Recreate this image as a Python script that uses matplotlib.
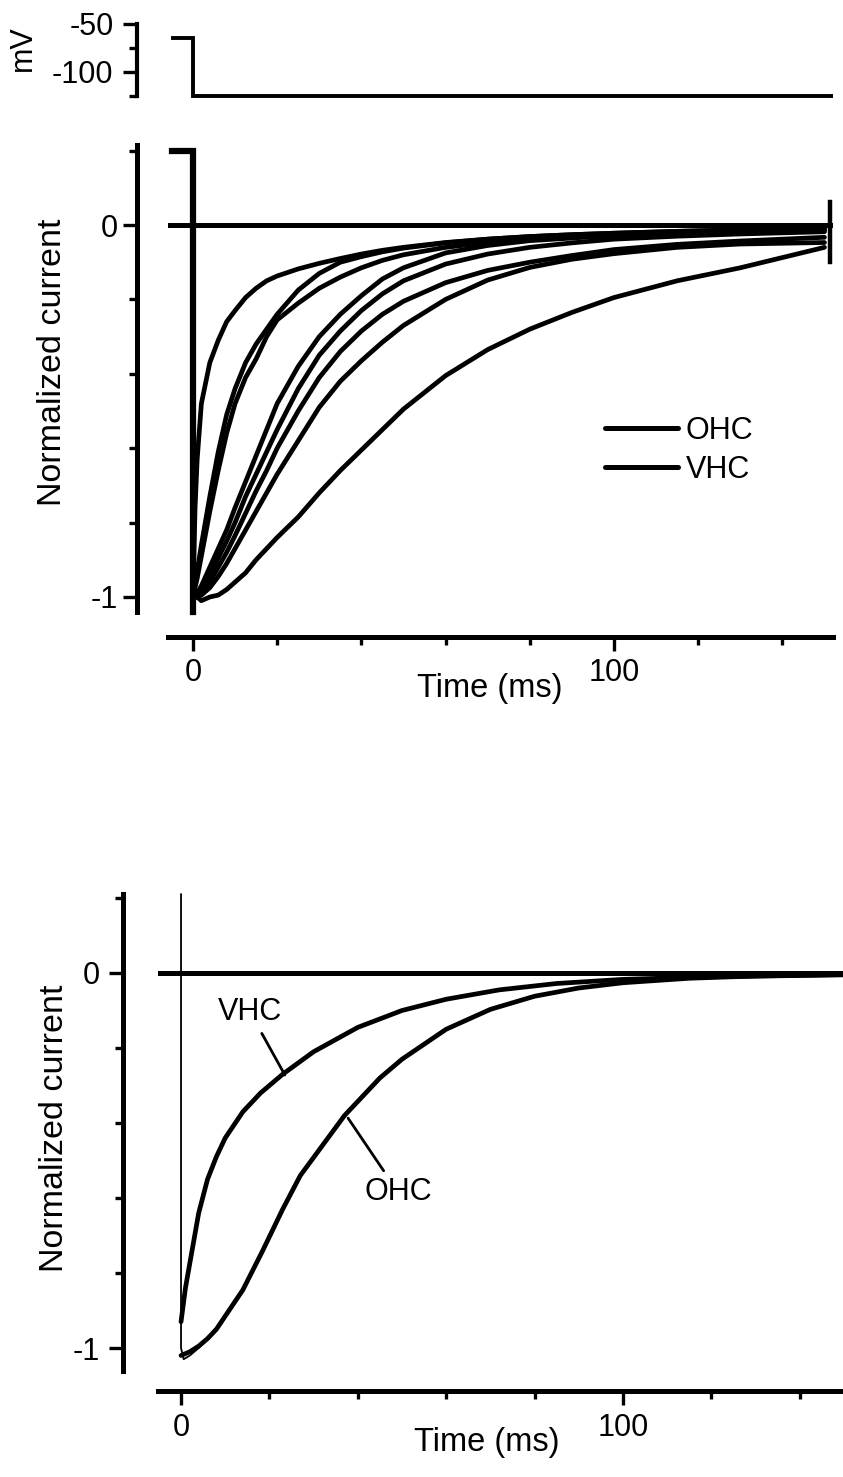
import matplotlib
matplotlib.use("Agg")
import matplotlib.pyplot as plt
from matplotlib.lines import Line2D

plt.rcParams['font.family'] = ['Liberation Sans', 'DejaVu Sans']
plt.rcParams['axes.unicode_minus'] = False

# ---------------- data ----------------
# voltage protocol (top)
volt_t = [-4.75, 0, 0, 152]
volt_mV = [-65, -65, -125, -125]

# normalized current traces (middle)
t_traces = [0, 0.5, 1, 2, 4, 6, 8, 10, 12.5, 15, 17.5, 20, 25, 30, 35, 40, 45, 50,
            60, 70, 80, 90, 100, 115, 130, 150]
trace_A = [-1.0, -0.76, -0.63, -0.48, -0.37, -0.31, -0.26, -0.23, -0.195, -0.17, -0.15, -0.137,
           -0.118, -0.103, -0.09, -0.078, -0.068, -0.06, -0.047, -0.038, -0.031, -0.026,
           -0.022, -0.017, -0.013, -0.01]
trace_B = [-1.0, -0.965, -0.93, -0.86, -0.73, -0.61, -0.51, -0.44, -0.37, -0.32, -0.28, -0.24,
           -0.175, -0.13, -0.1, -0.085, -0.072, -0.062, -0.048, -0.038, -0.031, -0.026,
           -0.022, -0.017, -0.013, -0.01]
trace_C = [-1.0, -0.975, -0.95, -0.89, -0.77, -0.66, -0.56, -0.48, -0.41, -0.36, -0.30, -0.255,
           -0.21, -0.17, -0.14, -0.115, -0.095, -0.08, -0.06, -0.047, -0.038, -0.031,
           -0.026, -0.02, -0.016, -0.012]
trace_D = [-1.0, -0.998, -0.99, -0.97, -0.92, -0.87, -0.82, -0.76, -0.69, -0.62, -0.55, -0.48,
           -0.38, -0.30, -0.24, -0.19, -0.145, -0.115, -0.075, -0.055, -0.042, -0.035,
           -0.028, -0.022, -0.018, -0.014]
trace_E = [-1.0, -1.0, -0.995, -0.98, -0.94, -0.895, -0.85, -0.8, -0.73, -0.67, -0.61, -0.55,
           -0.44, -0.35, -0.285, -0.23, -0.185, -0.15, -0.105, -0.078, -0.06, -0.048,
           -0.038, -0.03, -0.024, -0.018]
trace_F = [-1.0, -1.0, -0.998, -0.99, -0.96, -0.92, -0.88, -0.835, -0.775, -0.715, -0.66, -0.6,
           -0.5, -0.41, -0.34, -0.285, -0.24, -0.205, -0.155, -0.122, -0.1, -0.082,
           -0.066, -0.052, -0.043, -0.033]
trace_G = [-1.0, -1.0, -1.0, -0.995, -0.975, -0.945, -0.91, -0.87, -0.82, -0.77, -0.72, -0.67,
           -0.58, -0.49, -0.42, -0.365, -0.315, -0.27, -0.2, -0.148, -0.114, -0.092,
           -0.077, -0.06, -0.051, -0.047]
trace_I = [-1.0, -1.0, -1.0, -1.01, -1.0, -0.995, -0.98, -0.96, -0.935, -0.9, -0.87, -0.84,
           -0.785, -0.72, -0.66, -0.605, -0.55, -0.495, -0.405, -0.335, -0.28, -0.235,
           -0.195, -0.15, -0.115, -0.06]
traces = [trace_A, trace_B, trace_C, trace_D, trace_E, trace_F, trace_G, trace_I]

# clipped capacitive transient at step onset / offset
cap_on_t = [-5, 0, 0]
cap_on_v = [0.2, 0.2, -1.04]
cap_off_t = [151.3, 151.3]
cap_off_v = [0.062, -0.10]
zero_t = [-6, 152]
zero_v = [0, 0]

# fitted curves (bottom)
t_vhc = [0, 1, 2.5, 4, 6, 8, 10, 14, 18, 23, 30, 40, 50, 60, 72, 85, 100, 120, 150]
fit_vhc = [-0.93, -0.84, -0.74, -0.64, -0.55, -0.49, -0.44, -0.37, -0.32, -0.27, -0.21,
           -0.145, -0.1, -0.07, -0.045, -0.028, -0.017, -0.01, -0.005]
t_ohc = [0, 2, 4, 6, 8, 10, 14, 18.5, 23, 27, 32, 37, 45, 50, 60, 70, 80, 90, 100, 115, 130, 150]
fit_ohc = [-1.02, -1.01, -0.995, -0.975, -0.95, -0.915, -0.845, -0.74, -0.63, -0.54, -0.46,
           -0.38, -0.28, -0.23, -0.15, -0.097, -0.062, -0.04, -0.026, -0.014, -0.008, -0.004]
raw_t = [0, 0, 0.6, 2, 4, 6]
raw_v = [0.21, -1.0, -1.03, -1.02, -1.0, -0.975]
zero2_t = [-5.3, 150]

legend_labels = ['OHC', 'VHC']
x_major = [0, 100]
x_minor = [20, 40, 60, 80, 120, 140]
y_major = [-1, 0]
y_minor = [-0.8, -0.6, -0.4, -0.2, 0.2]

# ---------------- figure ----------------
W, H = 843, 1477
fig = plt.figure(figsize=(W / 100, H / 100), dpi=100)
FS = 22
FS_YLAB = 24.5
FS_XLAB = 23.5


def add_axes(l, r, t, b):
    return fig.add_axes([l / W, 1 - b / H, (r - l) / W, (b - t) / H])


def style_ticks(ax, pad_y=6, pad_x=5):
    ax.tick_params(axis='both', which='major', length=10, width=2.4, labelsize=FS, direction='out')
    ax.tick_params(axis='both', which='minor', length=5.5, width=2.4, direction='out')
    ax.tick_params(axis='y', pad=pad_y)
    ax.tick_params(axis='x', pad=pad_x)


# ---- top: voltage ----
ax_v = add_axes(167.7, 832.9, 23.04, 97.9)
ax_v.plot(volt_t, volt_mV, color='k', lw=2.8, solid_joinstyle='miter')
ax_v.set_xlim(-6, 152)
ax_v.set_ylim(-127, -49)
for s in ['top', 'right', 'bottom']:
    ax_v.spines[s].set_visible(False)
ax_v.spines['left'].set_position(('outward', 22.1))
ax_v.spines['left'].set_bounds(-125, -50)
ax_v.spines['left'].set_linewidth(3)
ax_v.set_xticks([])
ax_v.set_yticks([-100, -50], labels=['-100', '-50'])
ax_v.set_yticks([-125, -75], minor=True)
style_ticks(ax_v, pad_y=7)
ax_v.set_ylabel('mV', fontsize=FS)
ax_v.yaxis.set_label_coords(38 / W, 1 - 48 / H, transform=fig.transFigure)

# ---- middle: traces ----
ax_m = add_axes(167.7, 832.9, 143.2, 619.3)
for tr in traces:
    ax_m.plot(t_traces, tr, color='k', lw=3.4, solid_capstyle='round', solid_joinstyle='round')
ax_m.plot(zero_t, zero_v, color='k', lw=3.6)
ax_m.plot(cap_on_t, cap_on_v, color='k', lw=4.5, solid_joinstyle='miter')
ax_m.plot(cap_off_t, cap_off_v, color='k', lw=3.2)
ax_m.set_xlim(-6, 152)
ax_m.set_ylim(-1.06, 0.22)
for s in ['top', 'right']:
    ax_m.spines[s].set_visible(False)
ax_m.spines['left'].set_position(('outward', 22.1))
ax_m.spines['left'].set_bounds(-1.04, 0.215)
ax_m.spines['bottom'].set_position(('outward', 12.7))
ax_m.spines['bottom'].set_bounds(-6, 152)
for s in ['left', 'bottom']:
    ax_m.spines[s].set_linewidth(3.6)
ax_m.set_xticks(x_major, labels=[str(v) for v in x_major])
ax_m.set_xticks(x_minor, minor=True)
ax_m.set_yticks(y_major, labels=['-1', '0'])
ax_m.set_yticks(y_minor, minor=True)
style_ticks(ax_m, pad_y=4, pad_x=5)
ax_m.set_ylabel('Normalized current', fontsize=FS_YLAB)
ax_m.yaxis.set_label_coords(68 / W, 1 - 362 / H, transform=fig.transFigure)
ax_m.set_xlabel('Time (ms)', fontsize=FS_XLAB)
ax_m.xaxis.set_label_coords(490 / W, 1 - 673 / H, transform=fig.transFigure)
handles = [Line2D([], [], color='k', lw=3.6, solid_capstyle='round') for _ in legend_labels]
ax_m.legend(handles, legend_labels, loc='upper left', bbox_to_anchor=(605 / W, 1 - 416 / H),
            bbox_transform=fig.transFigure, frameon=False, fontsize=FS, handlelength=2.4,
            handletextpad=0.25, labelspacing=0.28, borderpad=0, borderaxespad=0)

# ---- bottom: fits ----
ax_b = add_axes(157.6, 843, 890.5, 1374.25)
ax_b.plot(zero2_t, [0, 0], color='k', lw=3.6)
ax_b.plot(raw_t, raw_v, color='k', lw=1.3)
ax_b.plot(t_vhc, fit_vhc, color='k', lw=3.4, solid_capstyle='round', solid_joinstyle='round')
ax_b.plot(t_ohc, fit_ohc, color='k', lw=3.4, solid_capstyle='round', solid_joinstyle='round')
ax_b.set_xlim(-5.3, 149.8)
ax_b.set_ylim(-1.07, 0.22)
for s in ['top', 'right']:
    ax_b.spines[s].set_visible(False)
ax_b.spines['left'].set_position(('outward', 24.9))
ax_b.spines['left'].set_bounds(-1.06, 0.21)
ax_b.spines['bottom'].set_position(('outward', 12))
ax_b.spines['bottom'].set_bounds(-5.3, 149.8)
for s in ['left', 'bottom']:
    ax_b.spines[s].set_linewidth(3.6)
ax_b.set_xticks(x_major, labels=[str(v) for v in x_major])
ax_b.set_xticks(x_minor, minor=True)
ax_b.set_yticks(y_major, labels=['-1', '0'])
ax_b.set_yticks(y_minor, minor=True)
style_ticks(ax_b, pad_y=7, pad_x=6)
ax_b.set_ylabel('Normalized current', fontsize=FS_YLAB)
ax_b.yaxis.set_label_coords(70 / W, 1 - 1128 / H, transform=fig.transFigure)
ax_b.set_xlabel('Time (ms)', fontsize=FS_XLAB)
ax_b.xaxis.set_label_coords(487 / W, 1 - 1427 / H, transform=fig.transFigure)
ax_b.annotate('VHC', xy=(23.5, -0.272), xytext=(15.6, -0.104), fontsize=FS, ha='center', va='center',
              arrowprops=dict(arrowstyle='-', lw=2, color='k', shrinkA=3, shrinkB=0))
ax_b.annotate('OHC', xy=(37.8, -0.387), xytext=(49.1, -0.584), fontsize=FS, ha='center', va='center',
              arrowprops=dict(arrowstyle='-', lw=2, color='k', shrinkA=3, shrinkB=0))

fig.savefig('out.png', dpi=100)
